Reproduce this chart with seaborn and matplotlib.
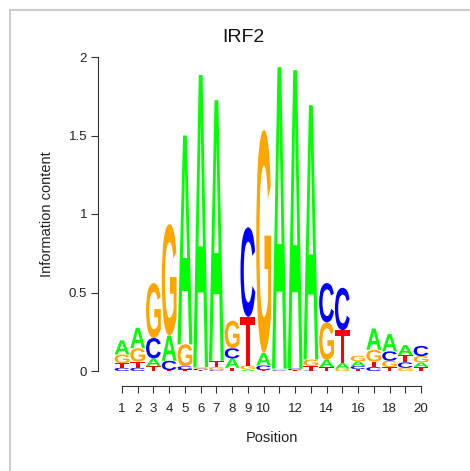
import matplotlib
matplotlib.use("Agg")
import matplotlib.pyplot as plt
import seaborn as sns
from matplotlib.textpath import TextPath
from matplotlib.patches import PathPatch
from matplotlib.font_manager import FontProperties
from matplotlib.transforms import Affine2D
from matplotlib.lines import Line2D

# motif IRF2 - information content por posicao (bits)
positions = list(range(1, 21))
bits_A = [0.090, 0.130, 0.050, 0.160, 1.330, 1.860, 1.660, 0.060, 0.010, 0.080,
          1.920, 1.900, 1.620, 0.045, 0.035, 0.030, 0.135, 0.110, 0.065, 0.030]
bits_C = [0.020, 0.020, 0.130, 0.060, 0.020, 0.010, 0.005, 0.065, 0.570, 0.030,
          0.005, 0.010, 0.003, 0.250, 0.270, 0.020, 0.025, 0.060, 0.035, 0.065]
bits_G = [0.055, 0.085, 0.350, 0.710, 0.140, 0.010, 0.020, 0.175, 0.025, 1.420,
          0.005, 0.003, 0.040, 0.240, 0.015, 0.035, 0.075, 0.040, 0.020, 0.040]
bits_T = [0.030, 0.040, 0.030, 0.005, 0.010, 0.005, 0.040, 0.020, 0.310, 0.005,
          0.005, 0.003, 0.030, 0.025, 0.210, 0.012, 0.035, 0.025, 0.045, 0.025]

xtick_labels = ["1", "2", "3", "4", "5", "6", "7", "8", "9", "10",
                "", "12", "", "14", "", "16", "", "18", "", "20"]
yticks = [0, 0.5, 1, 1.5, 2]
ytick_labels = ["0", "0.5", "1", "1.5", "2"]

letter_colors = {"A": "#00FF00", "C": "#0000FF", "G": "#FFA500", "T": "#FF0000"}

sns.set_theme(style="white")
plt.rcParams["font.family"] = ["Liberation Sans", "DejaVu Sans"]

letter_font = FontProperties(family="Liberation Sans", weight="bold")


def draw_letter(ax, letter, x, y0, height, width=0.94):
    # desenha a letra esticada dentro da caixa (x - w/2, y0, w, height)
    path = TextPath((0, 0), letter, size=1, prop=letter_font)
    ext = path.get_extents()
    tr = (Affine2D()
          .translate(-ext.x0, -ext.y0)
          .scale(width / ext.width, height / ext.height)
          .translate(x - width / 2, y0))
    patch = PathPatch(tr.transform_path(path), facecolor=letter_colors[letter],
                      edgecolor="none")
    ax.add_patch(patch)


fig = plt.figure(figsize=(4.70, 4.71), dpi=100)
ax = fig.add_axes([114.1 / 470, 1 - 371 / 471, 314.8 / 470, 314 / 471])

for i, pos in enumerate(positions):
    col = {"A": bits_A[i], "C": bits_C[i], "G": bits_G[i], "T": bits_T[i]}
    # menor embaixo, maior em cima
    y = 0.0
    for letter, h in sorted(col.items(), key=lambda kv: kv[1]):
        if h > 0:
            draw_letter(ax, letter, pos, y, h)
        y += h

ax.set_xlim(0.5, 20.5)
ax.set_ylim(0, 2)

ax.spines["top"].set_visible(False)
ax.spines["right"].set_visible(False)
for s in ["left", "bottom"]:
    ax.spines[s].set_color("#333333")
    ax.spines[s].set_linewidth(0.8)
ax.spines["left"].set_position(("outward", 11.5))
ax.spines["bottom"].set_position(("outward", 10.8))
ax.spines["bottom"].set_bounds(1, 20)

ax.set_xticks(positions)
ax.set_xticklabels(xtick_labels)
ax.set_yticks(yticks)
ax.set_yticklabels(ytick_labels)
# o estilo white do seaborn desliga os ticks, religando aqui
ax.tick_params(axis="both", bottom=True, left=True, direction="out",
               length=5, width=0.8, color="#333333", labelsize=9.5,
               labelcolor="#222222")
ax.tick_params(axis="x", pad=7)
ax.tick_params(axis="y", pad=3)

ax.set_xlabel("Position", fontsize=10.5, color="#222222")
ax.set_ylabel("Information content", fontsize=10.5, color="#222222")
ax.xaxis.set_label_coords(0.5, -0.19)
ax.yaxis.set_label_coords(-0.19, 0.5)

fig.text(243 / 470, 1 - 42 / 471, "IRF2", ha="center", va="baseline",
         fontsize=14, color="#111111")

# moldura cinza (topo e esquerda)
fig.add_artist(Line2D([10 / 470, 1], [1 - 10 / 471, 1 - 10 / 471],
                      transform=fig.transFigure, color="#cccccc", lw=1.5))
fig.add_artist(Line2D([10 / 470, 10 / 470], [0, 1 - 10 / 471],
                      transform=fig.transFigure, color="#cccccc", lw=1.5))

fig.savefig("out.png", dpi=100, facecolor="white")
plt.close(fig)
